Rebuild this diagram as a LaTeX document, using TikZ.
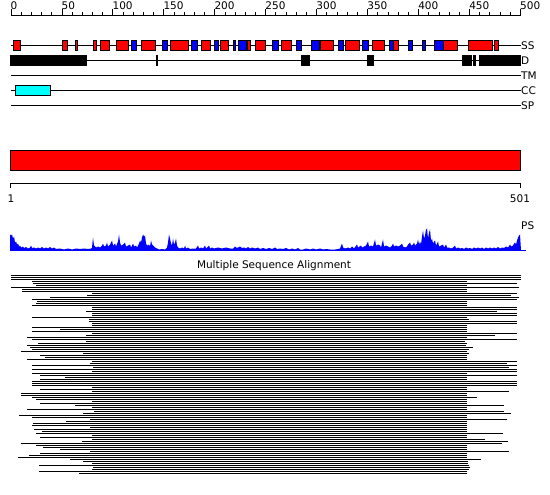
\documentclass[tikz,border=0pt]{standalone}
\usepackage{fontspec}
\setmainfont{DejaVu Sans}
\definecolor{ssred}{RGB}{255,0,0}
\definecolor{ssblue}{RGB}{0,0,255}
\definecolor{cccyan}{RGB}{0,255,255}
\tikzset{
  lbl/.style={font=\fontsize{10.5}{12}\selectfont, inner sep=0pt},
  trackline/.style={line width=1pt, black},
  helix/.style={fill=ssred, draw=black, line width=0.9pt},
  strand/.style={fill=ssblue, draw=black, line width=0.9pt},
  disbox/.style={fill=black, draw=black, line width=0.9pt},
  ccbox/.style={fill=cccyan, draw=black, line width=0.9pt},
  msaline/.style={line width=1pt, black},
}
\begin{document}
\begin{tikzpicture}[x=1pt,y=-1pt]
\useasboundingbox (0,0) rectangle (550,495);
% ruler
\draw[trackline] (11,15.5) -- (520.5,15.5);
\foreach \r in {0,10,...,500} \draw[line width=0.9pt] ({11+1.019*\r},12.5) -- ({11+1.019*\r},15.5);
\foreach \r in {0,50,...,500} {
  \draw[line width=0.9pt] ({11+1.019*\r},9.5) -- ({11+1.019*\r},15.5);
  \node[lbl, anchor=base west] (rl\r) at ({10.5+1.019*\r},10) {\r};
}
% tracks
\foreach \yy/\nm in {45.5/SS,60.5/D,75.5/TM,90.5/CC,105.5/SP} {
  \draw[trackline] (11,\yy) -- (520.5,\yy);
  \node[lbl, anchor=west] (t\nm) at (521,\yy) {\nm};
}
% SS
\foreach \a/\b/\c in {13.3/20.7/helix,62.3/67.7/helix,75.3/77.7/helix,93.3/96.7/helix,100.3/109.3/helix,116.3/128.7/helix,131.3/136.7/strand,141.3/155.3/helix,162.3/167.7/strand,170.3/188.3/helix,191.3/197.3/strand,201.3/210.7/helix,214.3/218.7/strand,220.3/228.7/helix,233/235.7/strand,238.3/246/strand,247.3/250.7/helix,255.3/265.7/helix,272/278.3/strand,281.7/291.7/helix,296/301.7/strand,311/319/strand,320.3/333.7/helix,338.3/343.7/strand,345.3/359.3/helix,362.3/368.7/strand,372.3/384.3/helix,389.3/393.3/strand,393.3/398.7/helix,408/412.7/strand,422/425.7/strand,434.3/443.3/strand,443.3/457.3/helix,468.3/492.7/helix,494/498.3/helix}
  \draw[\c] (\a,40.5) rectangle (\b,50.5);
% D
\foreach \a/\b in {10/16.7,17.7/86.7,156/157.7,301.7/309,367.7/373,462.3/471,473/475,479.7/520.7}
  \draw[disbox] (\a,55.5) rectangle (\b,65.5);
% CC
\draw[ccbox] (15,85.5) rectangle (50.3,95.5);
% red bar
\draw[fill=ssred, draw=black, line width=1pt] (10.5,150.5) rectangle (520,171);
% scale
\draw[line width=1pt] (10.5,188) -- (10.5,183.5) -- (520,183.5) -- (520,188);
\node[lbl] (s1) at (11,198.5) {1};
\node[lbl] (s501) at (520,198.5) {501};
% PS profile
\fill[ssblue] (10,250.5)
 \foreach \x/\h in {10/16,11/15,12/16,13/12,14/14,15/8,16/9,17/6,18/7,19/4,20/5,21/3,23/4,24/2.5,26/3.5,28/2,30/3,31/5,32/2.5,34/3,36/2,38/3,40/2,42/3.5,44/2,46/3,48/2,50/3.5,52/2,54/3,56/1.5,60/2,64/1,68/2,72/1,76/2,80/1.5,84/2,88/1.5,91/2,92/3,93/13,94/5,96/3,98/4,100/3,102/5,103/7,104/4,106/5,107/8,108/4,110/6,112/10,113/5,115/7,116/4,118/9,119/16,120/8,121/5,123/6,125/8,126/4,128/5,130/6,131/3,133/7,134/4,136/5,137/3,139/7,140/10,141/8,142/13,143/16,144/14,145/15,146/7,147/5,149/6,150/4,151/10,152/6,153/5,155/3,157/2,159/1,162/1.5,165/1,167/3,168/8,169/16,170/12,171/7,172/5,173/12,174/6,175/8,176/12,177/5,178/3,180/2,182/3,184/2,185/5,186/2,188/3,190/1.5,193/2,196/2,198/5,199/2,201/3,203/2,205/5,206/2,209/5,210/2,212/3,214/2,218/3,222/2,226/3,230/2,233/2,235/4,236/3,238/3,240/4,242/2.5,244/3,246/2,248/3.5,250/2,252/3,255/2,258/3,260/1.5,263/2.5,266/1.5,269/2.5,272/1.5,275/3,277/1.5,280/2,283/1.5,286/2.5,289/1,292/2,295/1,298/2.5,300/1,303/1,306/2,310/1,313/2,316/1,320/2,323/1,326/1.5,330/1,335/1,338/1.5,340/2,342/7,343/3,345/2,348/3,350/2,352/4,354/2,357/6,358/3,361/5,362/3,364/4,366/5,368/9,369/4,371/5,373/4,375/11,376/5,378/6,380/5,381/3,383/11,384/4,386/5,388/4,390/3,392/5,393/7,394/4,396/5,398/4,400/5,402/7,403/4,405/3,407/4,408/6,410/8,411/5,413/6,414/8,415/5,417/7,418/11,419/6,420/9,421/6,422/14,423/20,424/12,425/15,426/21,427/22,428/12,429/18,430/21,431/10,432/12,433/7,434/9,435/10,436/5,437/7,438/9,439/4,441/5,443/6,444/3,446/6,447/3,449/3,451/2,453/3,455/5,456/2,458/3,460/2,462/2.5,464/1.5,466/3,468/2,470/2.5,472/1.5,474/3,476/2,478/3,480/2,482/3,484/1.5,486/3,488/2,490/3,492/2,494/3,496/2,498/3.5,500/2,502/3,504/2.5,506/4,508/3,510/6,511/4,513/5,514/7,515/8,516/6,517/10,518/13,519/15,520/16}
 { -- (\x,{250.5-\h}) } -- (521,250.5) -- cycle;
\draw[ssblue, line width=1pt] (10,250.5) -- (525.5,250.5);
\node[lbl, anchor=west] (tPS) at (521,226) {PS};
% MSA
\node[lbl] (msa) at (274,266) {Multiple Sequence Alignment};
\foreach \s/\e [count=\k from 0] in {11/521,11/521,11/521,32/467,33/517,36/467,11/519,22/467,22/467,92/517,87/511,50/519,32/517,37/467,36/467,32/467,92/517,92/517,86/497,92/517,92/517,32/467,89/469,89/517,92/517,92/467,32/467,60/467,32/467,92/517,86/495,27/467,32/517,86/465,38/467,27/466,30/473,32/469,21/467,83/469,40/467,45/467,27/467,92/517,90/507,32/517,93/509,32/517,92/517,32/467,40/517,65/467,40/467,32/517,32/517,32/517,92/467,40/467,92/509,21/467,21/467,32/477,36/467,92/467,40/467,75/504,92/467,27/467,94/504,83/511,19/467,32/467,90/507,66/467,33/467,32/467,90/467,34/467,42/467,36/503,92/467,40/467,92/485,82/508,21/502,36/467,43/467,60/467,90/509,40/467,29/467,18/467,70/481,83/468,92/468,39/469,93/470,92/469,39/467,79/467}
  \draw[msaline] (\s,{275.5+2*\k}) -- (\e,{275.5+2*\k});
\end{tikzpicture}
\end{document}
